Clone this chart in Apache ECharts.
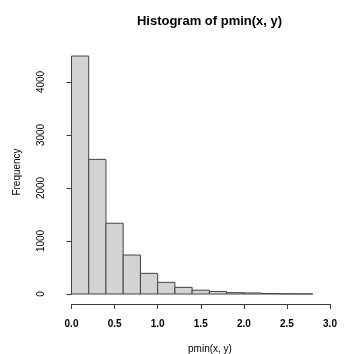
<!DOCTYPE html>
<html>
<head>
<meta charset="utf-8">
<script src="https://cdn.jsdelivr.net/npm/echarts@6/dist/echarts.min.js"></script>
<style>
  html, body { margin: 0; padding: 0; background: #fff; }
  #chart { width: 344px; height: 354px; }
</style>
</head>
<body>
<div id="chart"></div>
<script>
// histogram bins (left edges) and counts
const binStart = [0.0, 0.2, 0.4, 0.6, 0.8, 1.0, 1.2, 1.4, 1.6, 1.8, 2.0, 2.2, 2.4, 2.6];
const binWidth = 0.2;
const counts = [4490, 2540, 1335, 735, 390, 220, 125, 72, 48, 25, 20, 8, 4, 2];
const xTicks = [0.0, 0.5, 1.0, 1.5, 2.0, 2.5, 3.0];
const yTicks = [0, 1000, 2000, 3000, 4000];

const font = 'Liberation Sans, Arial, sans-serif';
const axisColor = '#3a3a3a';

const chart = echarts.init(document.getElementById('chart'));

const bins = binStart.map((x0, i) => [x0, x0 + binWidth, counts[i]]);

chart.setOption({
  animation: false,
  grid: { left: 71.5, right: 14, top: 82, bottom: 60 },
  xAxis: {
    type: 'value',
    min: 0,
    max: 3,
    interval: 0.5,
    offset: 10,
    axisLine: { onZero: false, lineStyle: { color: axisColor, width: 1 } },
    axisTick: { length: 5, lineStyle: { color: axisColor } },
    axisLabel: {
      margin: 15,
      fontFamily: font,
      fontSize: 10,
      fontWeight: 'bold',
      color: '#000',
      formatter: v => v.toFixed(1)
    },
    splitLine: { show: false }
  },
  yAxis: {
    type: 'value',
    min: 0,
    max: 4000,
    interval: 1000,
    offset: 11.5,
    axisLine: { show: true, lineStyle: { color: axisColor, width: 1 } },
    axisTick: { show: true, length: 5, lineStyle: { color: axisColor } },
    axisLabel: {
      rotate: 90,
      margin: 14,
      fontFamily: font,
      fontSize: 10,
      color: '#000',
      formatter: v => yTicks.includes(v) ? String(v) : ''
    },
    splitLine: { show: false }
  },
  graphic: [
    {
      type: 'text', x: 209.5, y: 21,
      style: { text: 'Histogram of pmin(x, y)', font: 'bold 13px ' + font, fill: '#000', align: 'center', verticalAlign: 'middle' }
    },
    {
      type: 'text', x: 210, y: 349,
      style: { text: 'pmin(x, y)', font: '10px ' + font, fill: '#000', align: 'center', verticalAlign: 'middle' }
    },
    {
      type: 'text', x: 17, y: 172, rotation: Math.PI / 2,
      style: { text: 'Frequency', font: '10px ' + font, fill: '#000', align: 'center', verticalAlign: 'middle' }
    }
  ],
  series: [{
    type: 'custom',
    clip: false,
    data: bins,
    renderItem: (params, api) => {
      const p0 = api.coord([api.value(0), 0]);
      const p1 = api.coord([api.value(1), api.value(2)]);
      return {
        type: 'rect',
        shape: { x: p0[0], y: p1[1], width: p1[0] - p0[0], height: p0[1] - p1[1] },
        style: { fill: '#d3d3d3', stroke: '#444', lineWidth: 1 }
      };
    }
  }]
});
</script>
</body>
</html>
